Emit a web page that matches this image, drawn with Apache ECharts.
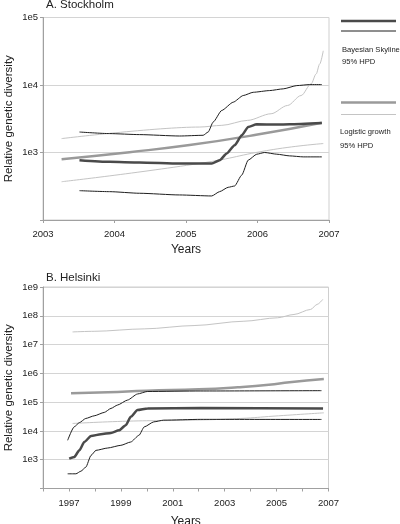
<!DOCTYPE html>
<html><head><meta charset="utf-8">
<script src="https://cdn.jsdelivr.net/npm/echarts@6/dist/echarts.min.js"></script>
<style>html,body{margin:0;padding:0;background:#fff}#c{width:400px;height:524px}</style>
</head><body><div id="c"></div>
<script>
// ---- Stockholm (A) ----
var stoSkyMedYears = [2003.51,2003.93,2004.35,2004.91,2005.36,2005.47,2005.57,2005.68,2005.78,2005.87,2005.99,2006.27,2006.45,2006.90];
var stoSkyMed      = [770,727,713,688,688,770,967,1281,1799,2382,2611,2590,2611,2730];
var stoSkyUpYears  = [2003.51,2003.93,2004.35,2004.91,2005.24,2005.31,2005.38,2005.50,2005.66,2005.80,2005.94,2006.17,2006.36,2006.55,2006.73,2006.90];
var stoSkyUp       = [2011,1906,1841,1755,1799,2011,2825,4198,5562,6980,7800,8270,8770,9800,10140,10140];
var stoSkyLoYears  = [2003.51,2003.93,2004.35,2004.91,2005.36,2005.47,2005.59,2005.68,2005.78,2005.87,2005.99,2006.10,2006.27,2006.45,2006.64,2006.90];
var stoSkyLo       = [272,263,249,235,227,263,305,319,463,771,944,1000,944,891,861,861];
var stoLogMedYears = [2003.26,2004.21,2005.05,2005.98,2006.90];
var stoLogMed      = [797,1012,1288,1828,2767];
var stoLogUpYears  = [2003.26,2005.19,2005.50,2005.86,2006.19,2006.42,2006.61,2006.75,2006.82,2006.87,2006.92];
var stoLogUp       = [1607,2382,2524,2991,3752,4972,6985,10380,14560,20460,32100];
var stoLogLoYears  = [2003.26,2005.19,2006.22,2006.92];
var stoLogLo       = [369,689,1107,1357];

// ---- Helsinki (B) ----
var helSkyMedYears = [1997.01,1997.20,1997.40,1997.59,1997.85,1998.23,1998.62,1998.93,1999.19,1999.38,1999.64,2000.03,2002.08,2006.79];
var helSkyMed      = [1084,1234,2113,4122,6680,7670,8510,10570,15810,30900,52970,60700,62200,60700];
var helSkyUpYears  = [1996.95,1997.20,1997.40,1997.65,1997.97,1998.36,1998.62,1998.87,1999.26,1999.64,2000.02,2002.08,2006.73];
var helSkyUp       = [4730,13800,19360,27150,33440,43950,60650,79200,118400,191800,234800,244000,250600];
var helSkyLoYears  = [1996.95,1997.27,1997.46,1997.65,1997.85,1998.04,1998.49,1999.00,1999.38,1999.70,1999.90,2000.27,2000.65,2002.08,2006.73];
var helSkyLo       = [324,324,399,551,1413,2113,2548,3162,4124,7080,13800,20660,23660,25220,25060];
var helLogMedYears = [1997.08,1998.50,2000.00,2002.00,2003.50,2004.70,2005.50,2006.82];
var helLogMed      = [203000,220000,250000,280000,330000,400000,490000,631000];
var helLogUpYears  = [1997.14,1997.97,1999.90,2001.82,2003.74,2005.03,2005.67,2006.31,2006.56,2006.78];
var helLogUp       = [2.75e7,2.89e7,3.51e7,4.58e7,6.47e7,8.51e7,1.11e8,1.66e8,2.48e8,3.71e8];
var helLogLoYears  = [1997.14,1999.26,2001.70,2003.62,2004.90,2006.82];
var helLogLo       = [18150,21830,23660,27150,32680,42600];

var titles = ['A. Stockholm','B. Helsinki'];
var legendTexts = ['Bayesian Skyline','95% HPD','Logistic growth','95% HPD'];

function pairs(xs, ys){ return xs.map(function(x,i){ return [x, ys[i]]; }); }

var FONT = 'Liberation Sans, Arial, sans-serif';
var C_DARK_THICK = '#4a4a4a', C_DARK_THIN = '#1e1e1e', C_GRAY_THICK = '#9a9a9a', C_GRAY_THIN = '#c4c4c4';

function line(name, data, xi, color, width, z, sm, mono){
  var s = {name:name, type:'line', xAxisIndex:xi, yAxisIndex:xi, data:data, showSymbol:false, symbol:'none',
    smooth:sm, lineStyle:{color:color, width:width}, z:z, silent:true, animation:false};
  if (mono) s.smoothMonotone = 'x';
  return s;
}

function logLabel(v){
  if (Math.abs(v-100) < 1) return '';
  return '1e' + Math.round(Math.log10(v));
}

var chart = echarts.init(document.getElementById('c'), null, {renderer:'canvas'});
var axisLineColor = '#a0a0a0';
function yAxisCfg(gi, max, split){
  return {type:'log', logBase:10, gridIndex:gi, min:100, max:max, interval:1, splitNumber:split,
     axisLine:{show:true, lineStyle:{color:axisLineColor}}, axisTick:{show:true, length:3, lineStyle:{color:axisLineColor}},
     splitLine:{show:true, lineStyle:{color:'#d4d4d4', width:1}},
     minorTick:{show:false}, minorSplitLine:{show:false},
     axisLabel:{color:'#222', fontSize:9.5, fontFamily:FONT, margin:5, formatter:logLabel},
     name:'Relative genetic diversity', nameLocation:'middle', nameGap:28, nameRotate:90, nameMoveOverlap:false,
     nameTextStyle:{fontSize:11.5, color:'#222', fontFamily:FONT}};
}
var option = {
  backgroundColor:'#fff',
  animation:false,
  textStyle:{fontFamily:FONT},
  grid:[
    {left:43, top:17.5, width:286, height:202.5, show:true, borderColor:'#cfcfcf', borderWidth:1, containLabel:false, outerBoundsMode:'none'},
    {left:43, top:287, width:285.5, height:201.5, show:true, borderColor:'#cfcfcf', borderWidth:1, containLabel:false, outerBoundsMode:'none'}
  ],
  xAxis:[
    {type:'value', gridIndex:0, min:2003, max:2007, interval:1,
     axisLine:{show:true, lineStyle:{color:axisLineColor}}, axisTick:{show:true, length:3, lineStyle:{color:axisLineColor}},
     splitLine:{show:false},
     axisLabel:{color:'#222', fontSize:9.5, fontFamily:FONT, margin:9, formatter:function(v){return String(v);}},
     name:'Years', nameLocation:'middle', nameGap:24, nameTextStyle:{fontSize:12, color:'#222', fontFamily:FONT}},
    {type:'value', gridIndex:1, min:1996, max:2007, interval:1,
     axisLine:{show:true, lineStyle:{color:axisLineColor}}, axisTick:{show:true, length:3, lineStyle:{color:axisLineColor}},
     splitLine:{show:false},
     axisLabel:{color:'#222', fontSize:9.5, fontFamily:FONT, margin:10, showMinLabel:true, showMaxLabel:true,
       formatter:function(v){ return (Math.round(v)%2===1) ? String(Math.round(v)) : ''; }},
     name:'Years', nameLocation:'middle', nameGap:27, nameTextStyle:{fontSize:12, color:'#222', fontFamily:FONT}}
  ],
  yAxis:[ yAxisCfg(0, 100000, 3), yAxisCfg(1, 1e9, 7) ],
  title:[
    {text:titles[0], left:46, top:-1, padding:0, textStyle:{fontSize:11.5, fontWeight:'normal', color:'#222', fontFamily:FONT}},
    {text:titles[1], left:46, top:272, padding:0, textStyle:{fontSize:11.5, fontWeight:'normal', color:'#222', fontFamily:FONT}}
  ],
  graphic:[
    {type:'line', shape:{x1:341, y1:21, x2:396, y2:21}, style:{stroke:C_DARK_THICK, lineWidth:2.5}},
    {type:'line', shape:{x1:341, y1:31, x2:396, y2:31}, style:{stroke:C_DARK_THIN, lineWidth:1}},
    {type:'text', left:342, top:46, style:{text:legendTexts[0], fontSize:7.6, fill:'#222', fontFamily:FONT}},
    {type:'text', left:342, top:57.5, style:{text:legendTexts[1], fontSize:7.6, fill:'#222', fontFamily:FONT}},
    {type:'line', shape:{x1:341, y1:102.5, x2:396, y2:102.5}, style:{stroke:C_GRAY_THICK, lineWidth:2.5}},
    {type:'line', shape:{x1:341, y1:114.5, x2:396, y2:114.5}, style:{stroke:C_GRAY_THIN, lineWidth:1}},
    {type:'text', left:340, top:127.5, style:{text:legendTexts[2], fontSize:7.6, fill:'#222', fontFamily:FONT}},
    {type:'text', left:340, top:141.5, style:{text:legendTexts[3], fontSize:7.6, fill:'#222', fontFamily:FONT}}
  ],
  series:[
    line('Logistic lower', pairs(stoLogLoYears, stoLogLo), 0, C_GRAY_THIN, 1, 2, 0.5, false),
    line('Logistic upper', pairs(stoLogUpYears, stoLogUp), 0, C_GRAY_THIN, 1, 2, 0.3, true),
    line('Logistic growth', pairs(stoLogMedYears, stoLogMed), 0, C_GRAY_THICK, 2.5, 3, 0.5, false),
    line('Skyline lower', pairs(stoSkyLoYears, stoSkyLo), 0, C_DARK_THIN, 1, 4, 0.2, true),
    line('Skyline upper', pairs(stoSkyUpYears, stoSkyUp), 0, C_DARK_THIN, 1, 4, 0.2, true),
    line('Bayesian Skyline', pairs(stoSkyMedYears, stoSkyMed), 0, C_DARK_THICK, 2.5, 5, 0.2, true),

    line('Logistic lower', pairs(helLogLoYears, helLogLo), 1, C_GRAY_THIN, 1, 2, 0.5, false),
    line('Logistic upper', pairs(helLogUpYears, helLogUp), 1, C_GRAY_THIN, 1, 2, 0.3, true),
    line('Logistic growth', pairs(helLogMedYears, helLogMed), 1, C_GRAY_THICK, 2.5, 3, 0.5, false),
    line('Skyline lower', pairs(helSkyLoYears, helSkyLo), 1, C_DARK_THIN, 1, 4, 0.2, true),
    line('Skyline upper', pairs(helSkyUpYears, helSkyUp), 1, C_DARK_THIN, 1, 4, 0.2, true),
    line('Bayesian Skyline', pairs(helSkyMedYears, helSkyMed), 1, C_DARK_THICK, 2.5, 5, 0.2, true)
  ]
};
chart.setOption(option);
</script></body></html>
